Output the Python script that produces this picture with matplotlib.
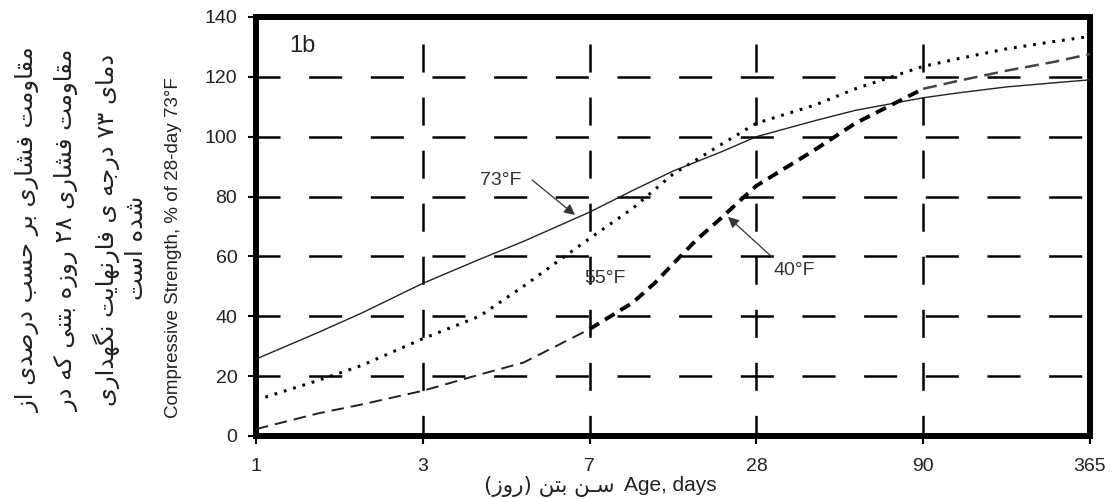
"""Compressive strength vs. age for concrete cured at 73, 55 and 40 F (figure 1b)."""
import re

import matplotlib

matplotlib.use("Agg")
import matplotlib.pyplot as plt
import numpy as np

plt.rcParams["lines.scale_dashes"] = False

# x axis: ages placed at equal spacing
AGE_TICKS = [1, 3, 7, 28, 90, 365]
STRENGTH_TICKS = [0, 20, 40, 60, 80, 100, 120, 140]

AGE_73 = [1, 1.5, 2, 3, 4, 5, 7, 10, 14, 21, 28, 42, 56, 90, 120, 180, 270, 365]
STR_73 = [25.7, 34.5, 41, 51, 59, 65, 74.8, 82, 88.5, 95, 100, 105.3, 108.8, 113,
          114.6, 116.6, 118, 119]

AGE_55 = [1, 1.5, 2, 3, 4, 5, 7, 10, 14, 21, 28, 42, 56, 90, 120, 180, 270, 365]
STR_55 = [12, 18.5, 23.5, 32.5, 40, 50, 66, 76, 87.5, 97.5, 104.5, 110.5, 116, 123.5,
          126, 129.3, 131.8, 133.5]

AGE_40 = [1, 1.5, 2, 3, 4, 5, 7, 10, 12, 14, 17, 21, 24, 28, 42, 56, 90, 120, 180, 270, 365]
STR_40 = [2.3, 7.5, 10.5, 15.1, 20.5, 24.5, 35.7, 44.5, 51, 57.5, 65.5, 73, 78, 83.6,
          95.5, 104.5, 116, 118.6, 122, 125, 127.6]

FA_YLABEL = [
    "مقاومت فشاری بر حسب درصدی از",
    "مقاومت فشاری ۲۸ روزه بتنی که در",
    "دمای ۷۳ درجه ی فارنهایت نگهداری",
    "شده است",
]
FA_XLABEL = "سـن بتن (روز)"

LATIN = ["Liberation Sans", "DejaVu Sans"]
ARABIC = ["DejaVu Sans"]

# presentation forms: isolated, final, initial, medial
FORMS = {
    "\u0627": "\uFE8D\uFE8E",
    "\u0628": "\uFE8F\uFE90\uFE91\uFE92",
    "\u062A": "\uFE95\uFE96\uFE97\uFE98",
    "\u062C": "\uFE9D\uFE9E\uFE9F\uFEA0",
    "\u062D": "\uFEA1\uFEA2\uFEA3\uFEA4",
    "\u062F": "\uFEA9\uFEAA",
    "\u0631": "\uFEAD\uFEAE",
    "\u0632": "\uFEAF\uFEB0",
    "\u0633": "\uFEB1\uFEB2\uFEB3\uFEB4",
    "\u0634": "\uFEB5\uFEB6\uFEB7\uFEB8",
    "\u0635": "\uFEB9\uFEBA\uFEBB\uFEBC",
    "\u0640": "\u0640\u0640\u0640\u0640",
    "\u0641": "\uFED1\uFED2\uFED3\uFED4",
    "\u0642": "\uFED5\uFED6\uFED7\uFED8",
    "\u0645": "\uFEE1\uFEE2\uFEE3\uFEE4",
    "\u0646": "\uFEE5\uFEE6\uFEE7\uFEE8",
    "\u0647": "\uFEE9\uFEEA\uFEEB\uFEEC",
    "\u0648": "\uFEED\uFEEE",
    "\u06A9": "\uFB8E\uFB8F\uFB90\uFB91",
    "\u06AF": "\uFB92\uFB93\uFB94\uFB95",
    "\u06CC": "\uFBFC\uFBFD\uFBFE\uFBFF",
}


def rtl(text):
    """Shape Persian letters and return them in visual (left-to-right) order."""
    text = text.replace("\u064A", "\u06CC").replace("\u0643", "\u06A9")
    shaped = []
    for i, ch in enumerate(text):
        forms = FORMS.get(ch)
        if forms is None:
            shaped.append(ch)
            continue
        prev = text[i - 1] if i > 0 else ""
        nxt = text[i + 1] if i + 1 < len(text) else ""
        join_prev = len(FORMS.get(prev, "")) == 4
        join_next = len(forms) == 4 and nxt in FORMS
        shaped.append(forms[int(join_prev) + 2 * int(join_next)])
    tokens = re.findall(r"[\u06F0-\u06F90-9]+|.", "".join(shaped))
    swap = {"(": ")", ")": "("}
    return "".join(swap.get(t, t) for t in reversed(tokens))


def age_to_pos(x):
    x = np.clip(np.asarray(x, dtype=float), 1e-6, None)
    return np.interp(np.log(x), np.log(AGE_TICKS), np.arange(len(AGE_TICKS)))


def pos_to_age(p):
    return np.exp(np.interp(p, np.arange(len(AGE_TICKS)), np.log(AGE_TICKS)))


fig = plt.figure(figsize=(11.16, 4.99), dpi=100)
ax = fig.add_axes([0.2294, 0.1263, 0.7473, 0.8397])
ax.set_xscale("function", functions=(age_to_pos, pos_to_age))
ax.set_xlim(AGE_TICKS[0], AGE_TICKS[-1])
ax.set_ylim(STRENGTH_TICKS[0], STRENGTH_TICKS[-1])

# dashed grid
for y in STRENGTH_TICKS[1:-1]:
    ax.axhline(y, color="black", lw=1.8, linestyle=(6.5, (23.8, 20.6)), zorder=1)
for age in AGE_TICKS[1:-1]:
    ax.axvline(age, ymin=131 / 140, ymax=0, color="black", lw=1.8,
               linestyle=(0, (20.2, 18.0)), zorder=1)

ax.plot(AGE_73, STR_73, color="#222222", lw=1.0, zorder=3)
ax.plot(AGE_55, STR_55, color="black", lw=2.2, linestyle=(0, (2, 5)), zorder=3)

i7, i90 = AGE_40.index(7), AGE_40.index(90)
ax.plot(AGE_40[:i7 + 1], STR_40[:i7 + 1], color="#222222", lw=1.4,
        linestyle=(0, (9, 5)), zorder=3)
ax.plot(AGE_40[i7:i90 + 1], STR_40[i7:i90 + 1], color="black", lw=2.8,
        linestyle=(0, (8, 5)), zorder=3)
ax.plot(AGE_40[i90:], STR_40[i90:], color="#444444", lw=1.8,
        linestyle=(0, (10, 5)), zorder=3)

for side in ("left", "right", "top", "bottom"):
    ax.spines[side].set_linewidth(4.3)
ax.set_xticks(AGE_TICKS)
ax.set_xticklabels([str(a) for a in AGE_TICKS])
ax.xaxis.set_minor_locator(matplotlib.ticker.NullLocator())
ax.set_yticks(STRENGTH_TICKS)
ax.tick_params(axis="both", direction="out", length=6, width=1.5, labelsize=14,
               colors="black", labelcolor="#222222")
ax.tick_params(axis="y", pad=7.5)
ax.tick_params(axis="x", pad=10)
for lab in ax.get_xticklabels() + ax.get_yticklabels():
    lab.set_family(LATIN)

# labels inside the plot
ax.text(0.056, 0.93, "1b", transform=ax.transAxes, fontsize=17, family=LATIN,
        ha="center", va="center", color="#222222")
label_kw = dict(transform=ax.transAxes, fontsize=14, family=LATIN, ha="center",
                va="center", color="#333333")
ax.text(0.2938, 0.6086, "73°F", **label_kw)
ax.text(0.4185, 0.377, "55°F", **label_kw)
ax.text(0.645, 0.394, "40°F", **label_kw)
arrow_kw = dict(arrowstyle="-|>", color="#333333", lw=0.9, mutation_scale=16,
                shrinkA=0, shrinkB=0)
ax.annotate("", xy=(0.3825, 0.5274), xytext=(0.331, 0.611), xycoords="axes fraction",
            textcoords="axes fraction", arrowprops=arrow_kw)
ax.annotate("", xy=(0.566, 0.5227), xytext=(0.6187, 0.4272), xycoords="axes fraction",
            textcoords="axes fraction", arrowprops=arrow_kw)

# axis titles
fig.text(0.1553, 0.503, "Compressive Strength, % of 28-day 73°F", rotation=90,
         fontsize=13.5, family=LATIN, ha="center", va="center", color="#222222")
fig.text(0.5591, 0.016, "Age, days", fontsize=15, family=LATIN, ha="left",
         va="baseline", color="#222222")
fig.text(0.5511, 0.014, rtl(FA_XLABEL), fontsize=15.5, family=ARABIC, ha="right",
         va="baseline", color="#222222")

fa_x = [28, 67, 106, 136]
fa_y = [230, 230, 230, 248]
for line, x, y in zip(FA_YLABEL, fa_x, fa_y):
    fig.text(x / 1116, 1 - y / 499, rtl(line), rotation=90, fontsize=17.5,
             family=ARABIC, ha="center", va="center", color="#222222")

fig.savefig("out.png", dpi=100)
